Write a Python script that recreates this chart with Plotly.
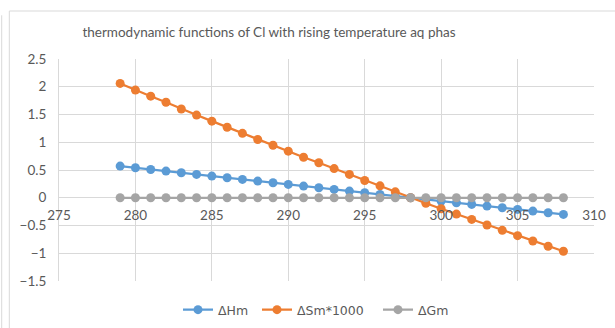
import plotly.graph_objects as go

temperature = list(range(279, 309))
dHm = [0.57, 0.54, 0.51, 0.48, 0.45, 0.42, 0.39, 0.36, 0.33, 0.30,
       0.27, 0.24, 0.21, 0.18, 0.15, 0.12, 0.09, 0.06, 0.03, 0.00,
       -0.03, -0.06, -0.09, -0.12, -0.15, -0.18, -0.21, -0.24, -0.27, -0.30]
dSm_x1000 = [2.06, 1.94, 1.83, 1.72, 1.60, 1.49, 1.38, 1.27, 1.16, 1.05,
             0.945, 0.84, 0.73, 0.63, 0.525, 0.42, 0.31, 0.215, 0.107, 0.0,
             -0.10, -0.198, -0.294, -0.39, -0.49, -0.587, -0.683, -0.779, -0.874, -0.964]
dGm = [0.0] * 30

series_names = ["ΔHm", "ΔSm*1000", "ΔGm"]
series_colors = ["#5B9BD5", "#ED7D31", "#A5A5A5"]
title_text = "thermodynamic functions of Cl with rising temperature aq phas"

FONT = "Lato"
LEG_FONT = "DejaVu Sans"
TXT = "#595959"
GRID = "#D9D9D9"

legend_ids = ["legend", "legend2", "legend3"]
legend_left_px = [183, 262, 383]

fig = go.Figure()
for name, vals, col, lg in zip(series_names, [dHm, dSm_x1000, dGm], series_colors, legend_ids):
    fig.add_trace(go.Scatter(
        x=temperature, y=vals, name=name, mode="lines+markers",
        line=dict(color=col, width=2.25),
        marker=dict(color=col, size=9),
        legend=lg,
    ))

# plot area pixel geometry
L, R, T, B = 59, 594, 58.7, 280.7
W, H = R - L, B - T

def px_x(p):
    return (p - L) / W

def px_y(p):
    return (B - p) / H

legend_style = dict(orientation="h", xref="container", yref="container",
                    xanchor="left", y=1 - 310 / 328, yanchor="middle",
                    font=dict(family=LEG_FONT, size=12.5, color=TXT),
                    itemwidth=30, bgcolor="rgba(0,0,0,0)", borderwidth=0)

fig.update_layout(
    width=615, height=328,
    margin=dict(l=L, r=615 - R, t=T, b=328 - B, pad=0),
    paper_bgcolor="white", plot_bgcolor="white",
    font=dict(family=FONT, color=TXT, size=13.5),
    title=dict(text=title_text, x=269 / 615, xanchor="center",
               y=1 - 32 / 328, yanchor="middle",
               font=dict(family=FONT, size=13.5, color=TXT)),
    showlegend=True,
    legend=dict(x=(legend_left_px[0] - 5) / 615, **legend_style),
    legend2=dict(x=(legend_left_px[1] - 5) / 615, **legend_style),
    legend3=dict(x=(legend_left_px[2] - 5) / 615, **legend_style),
    xaxis=dict(range=[275, 310], dtick=5, tick0=275,
               showgrid=True, gridcolor=GRID, gridwidth=1,
               zeroline=False, showline=False, automargin=False,
               anchor="free", position=1.5 / 4.0,
               ticks="", ticklabelstandoff=8,
               tickfont=dict(family=FONT, size=13.5, color=TXT)),
    yaxis=dict(range=[-1.5, 2.5], dtick=0.5, tick0=-1.5,
               domain=[0, 1], automargin=False,
               showgrid=True, gridcolor=GRID, gridwidth=1,
               zeroline=True, zerolinecolor=GRID, zerolinewidth=1,
               showline=True, linecolor=GRID, linewidth=1,
               ticks="", ticklabelstandoff=9,
               tickfont=dict(family=FONT, size=13.5, color=TXT)),
    shapes=[
        dict(type="rect", xref="paper", yref="paper",
             x0=px_x(9.3), x1=px_x(617), y0=px_y(335), y1=px_y(10.7),
             line=dict(color=GRID, width=1), layer="below"),
        dict(type="line", xref="paper", yref="paper",
             x0=px_x(1.7), x1=px_x(1.7), y0=px_y(335), y1=px_y(15),
             line=dict(color=GRID, width=1), layer="below"),
    ],
)

fig.write_html("out.html", config={"displayModeBar": False},
               post_script="document.body.style.margin='0';document.body.style.padding='0';")
